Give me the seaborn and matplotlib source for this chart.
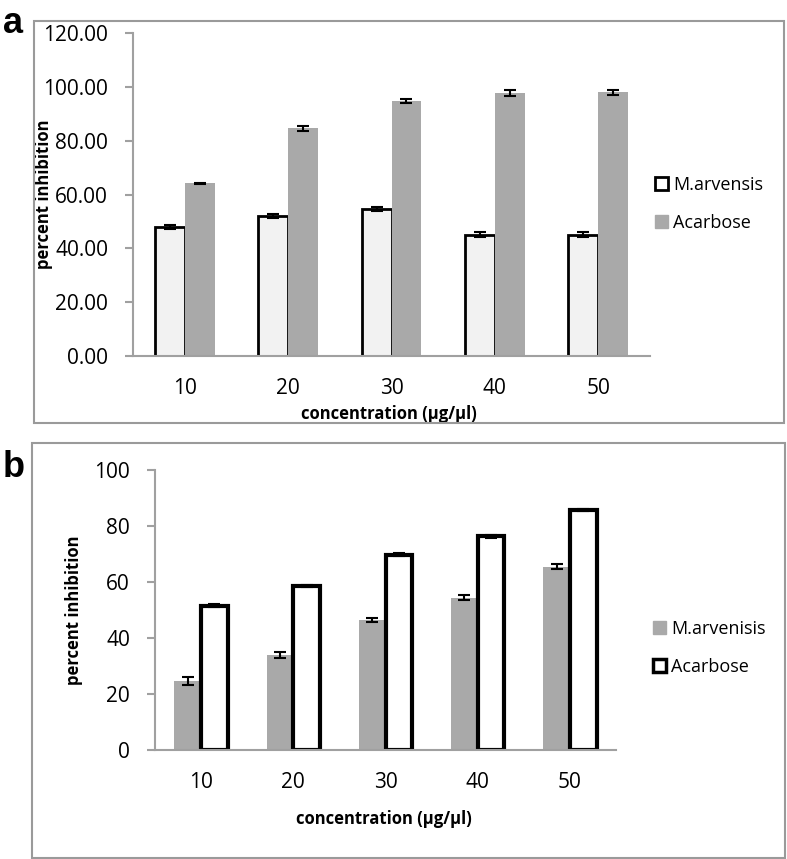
import pandas as pd
import seaborn as sns
import matplotlib.pyplot as plt
from matplotlib.patches import Rectangle, Patch

# data
conc = ['10', '20', '30', '40', '50']

# panel a
a_marv = [48.0, 52.1, 54.5, 45.1, 45.1]
a_marv_err = [0.8, 0.8, 0.8, 1.0, 1.0]
a_acar = [64.1, 84.6, 94.7, 97.7, 97.9]
a_acar_err = [0.3, 1.0, 0.7, 1.0, 0.8]

# panel b
b_marv = [24.6, 33.9, 46.4, 54.4, 65.4]
b_marv_err = [1.3, 1.0, 0.8, 0.8, 0.9]
b_acar = [51.5, 58.6, 69.8, 76.3, 85.7]
b_acar_err = [0.6, 0.5, 0.6, 0.5, 0.5]

GRAY = '#a9a9a9'
AXGRAY = '#a0a0a0'
sns.set_style('white')
plt.rcParams['font.family'] = ['Open Sans', 'DejaVu Sans']
plt.rcParams['text.color'] = 'black'
plt.rcParams['axes.labelcolor'] = 'black'
plt.rcParams['xtick.labelcolor'] = 'black'
plt.rcParams['ytick.labelcolor'] = 'black'

fig = plt.figure(figsize=(7.87, 8.59), dpi=100)

# outer frames
fig.patches.append(Rectangle((34/787, 1-423/859), (784-34)/787, (423-21)/859,
                             transform=fig.transFigure, fill=False, ec='#9a9a9a', lw=1.5))
fig.patches.append(Rectangle((32/787, 1-858/859), (785-32)/787, (858-443)/859,
                             transform=fig.transFigure, fill=False, ec='#9a9a9a', lw=1.5))


def panel(ax, s1, e1, s2, e2, names, styles, ylim, yticks, fmt):
    df = pd.DataFrame({
        'conc': conc * 2,
        'val': s1 + s2,
        'series': [names[0]] * 5 + [names[1]] * 5,
    })
    sns.barplot(data=df, x='conc', y='val', hue='series', hue_order=names,
                palette=[styles[0][0], styles[1][0]], width=0.58, gap=0,
                errorbar=None, legend=False, ax=ax, saturation=1)
    for cont, (fc, ec, lw), err, vals in zip(ax.containers, styles, [e1, e2], [s1, s2]):
        xs = []
        for bar in cont:
            bar.set_edgecolor(ec)
            bar.set_linewidth(lw)
            xs.append(bar.get_x() + bar.get_width() / 2)
        ax.errorbar(xs, vals, yerr=err, fmt='none', ecolor='black',
                    elinewidth=1.5, capsize=4, capthick=1.5, zorder=5)
    ax.set_xlim(-0.5, 4.5)
    ax.set_ylim(*ylim)
    ax.set_yticks(yticks)
    ax.set_yticklabels([fmt.format(v) for v in yticks], fontsize=15)
    ax.set_xticks(range(5))
    ax.set_xticklabels(conc, fontsize=15)
    ax.set_xticks([i - 0.5 for i in range(6)], minor=True)
    ax.tick_params(axis='x', which='major', length=0, pad=16)
    ax.tick_params(axis='x', which='minor', length=8, width=1.5, color=AXGRAY, direction='out')
    ax.tick_params(axis='y', length=6, width=1.5, color=AXGRAY, direction='out', pad=12, left=True)
    for side in ['top', 'right']:
        ax.spines[side].set_visible(False)
    for side in ['left', 'bottom']:
        ax.spines[side].set_color(AXGRAY)
        ax.spines[side].set_linewidth(1.5)
        ax.spines[side].set_zorder(6)
    ax.set_ylabel('percent inhibition', fontsize=12, fontweight='bold')
    ax.set_xlabel('concentration (µg/µl)', fontsize=12, fontweight='bold')


# panel a
ax1 = fig.add_axes([133/787, 1-356/859, 517/787, 323/859])
panel(ax1, a_marv, a_marv_err, a_acar, a_acar_err, ['M.arvensis', 'Acarbose'],
      [('#f2f2f2', 'black', 2.0), (GRAY, GRAY, 0)],
      (0, 120), [0, 20, 40, 60, 80, 100, 120], '{:.2f}')
ax1.yaxis.set_label_coords(-0.155, 0.5)
ax1.xaxis.set_label_coords(0.495, -0.152)
ax1.legend(handles=[Patch(fc='white', ec='black', lw=2, label='M.arvensis'),
                    Patch(fc=GRAY, ec=GRAY, label='Acarbose')],
           loc='upper left', bbox_to_anchor=(655/787, 1-176/859),
           bbox_transform=fig.transFigure, frameon=False, fontsize=13,
           handlelength=0.7, handleheight=0.7, handletextpad=0.3,
           labelspacing=1.1, borderpad=0, borderaxespad=0)

# panel b
ax2 = fig.add_axes([155/787, 1-750/859, 461/787, 280/859])
panel(ax2, b_marv, b_marv_err, b_acar, b_acar_err, ['M.arvenisis', 'Acarbose'],
      [(GRAY, GRAY, 0), ('white', 'black', 3.0)],
      (0, 100), [0, 20, 40, 60, 80, 100], '{:.0f}')
ax2.yaxis.set_label_coords(-0.156, 0.5)
ax2.xaxis.set_label_coords(0.497, -0.214)
ax2.legend(handles=[Patch(fc=GRAY, ec=GRAY, label='M.arvenisis'),
                    Patch(fc='white', ec='black', lw=2.5, label='Acarbose')],
           loc='upper left', bbox_to_anchor=(653/787, 1-620/859),
           bbox_transform=fig.transFigure, frameon=False, fontsize=13,
           handlelength=0.7, handleheight=0.7, handletextpad=0.3,
           labelspacing=1.1, borderpad=0, borderaxespad=0)

# panel letters
fig.text(3/787, 1-33/859, 'a', fontsize=26, fontweight='bold', va='baseline',
         family='Liberation Sans')
fig.text(3/787, 1-477/859, 'b', fontsize=26, fontweight='bold', va='baseline',
         family='Liberation Sans')

fig.savefig('out.png', dpi=100)
